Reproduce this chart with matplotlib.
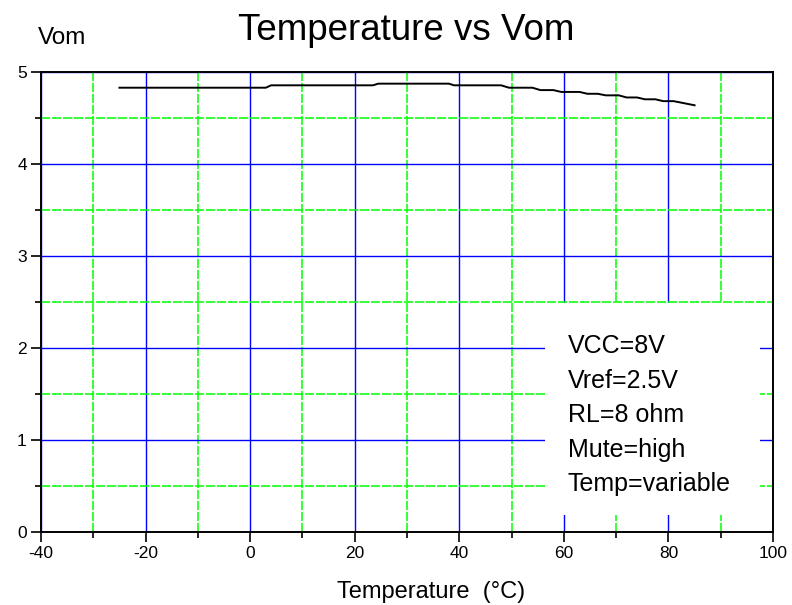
import matplotlib
matplotlib.use("Agg")
import matplotlib.pyplot as plt
from matplotlib.patches import Rectangle
from matplotlib.ticker import MultipleLocator

plt.rcParams['font.family'] = ['Liberation Sans', 'DejaVu Sans']
plt.rcParams['axes.unicode_minus'] = False

temp = [-25, 3, 4, 23.5, 24.5, 38, 39, 48, 49.5, 54, 55.5, 58, 59.5, 63, 64.5,
        66.5, 68, 70.5, 72, 74, 75.5, 77.5, 79, 81, 85]
vom = [4.826, 4.826, 4.852, 4.852, 4.87, 4.87, 4.852, 4.852, 4.826, 4.826, 4.80,
       4.80, 4.78, 4.78, 4.76, 4.76, 4.743, 4.743, 4.72, 4.72, 4.70, 4.70, 4.68,
       4.68, 4.635]
x_major = [-40, -20, 0, 20, 40, 60, 80, 100]
y_major = [0, 1, 2, 3, 4, 5]
notes = ["VCC=8V", "Vref=2.5V", "RL=8 ohm", "Mute=high", "Temp=variable"]

W, H = 792, 605
fig = plt.figure(figsize=(W / 100, H / 100), dpi=100)
ax = fig.add_axes([41 / W, 1 - 531.7 / H, (773 - 41) / W, (531.7 - 71.7) / H])

ax.set_xlim(-40, 100)
ax.set_ylim(0, 5)
ax.set_xticks(x_major)
ax.set_yticks(y_major)
ax.xaxis.set_minor_locator(MultipleLocator(10))
ax.yaxis.set_minor_locator(MultipleLocator(0.5))
ax.tick_params(which='major', direction='out', length=7.2, width=1.2,
               labelsize=12.5, pad=3)
ax.tick_params(which='minor', direction='out', length=4.3, width=1.2)

ax.grid(which='major', color=(0, 0, 1), linestyle='-', linewidth=1.0, zorder=1)
ax.grid(which='minor', color=(0, 1, 0), linestyle=(0, (6, 1.2)), linewidth=1.1, zorder=1)
ax.set_axisbelow(True)
for s in ax.spines.values():
    s.set_linewidth(1.4)
    s.set_zorder(5)

ax.add_patch(Rectangle((56.4, 0.18), 41.1, 2.31, facecolor='white',
                       edgecolor='none', zorder=1.5))

ax.plot(temp, vom, color='black', linewidth=1.4, zorder=3)

for i, t in enumerate(notes):
    ax.text(568 / 5.229 - 41 / 5.229 - 40, (531.7 - (353 + i * 34.5)) / 92, t,
            fontsize=18, ha='left', va='baseline', zorder=4)

fig.text(406 / W, 1 - 40 / H, "Temperature vs Vom", fontsize=26.5, ha='center', va='baseline')
fig.text(38 / W, 1 - 44 / H, "Vom", fontsize=17.5, ha='left', va='baseline')
fig.text(431 / W, 1 - 598 / H, "Temperature  (°C)", fontsize=17, ha='center', va='baseline')

fig.savefig("out.png", dpi=100)
